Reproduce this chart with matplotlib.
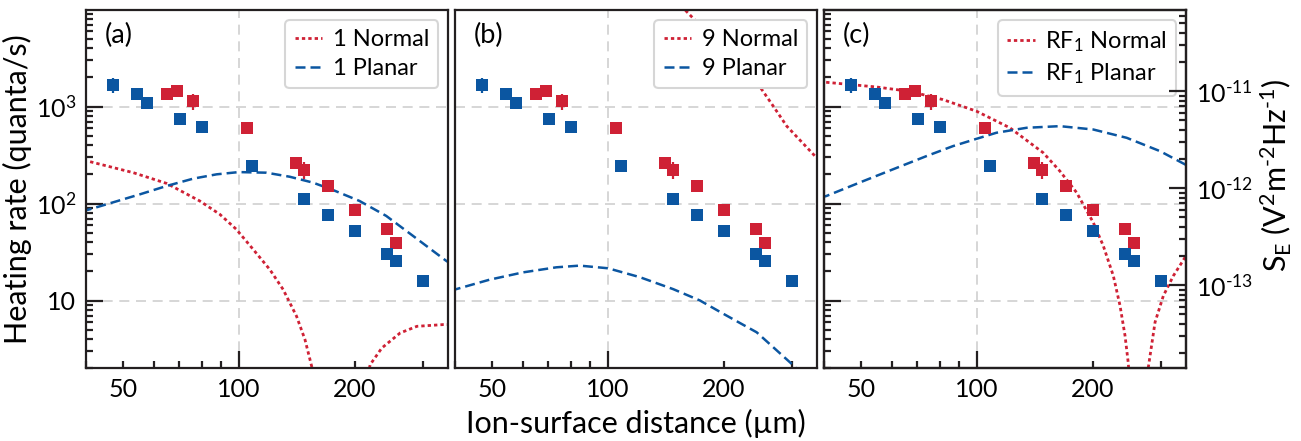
import matplotlib
matplotlib.use('Agg')
import matplotlib.pyplot as plt

plt.rcParams['font.family'] = ['Lato', 'DejaVu Sans']
plt.rcParams['mathtext.fontset'] = 'custom'
plt.rcParams['mathtext.rm'] = 'Lato'
plt.rcParams['mathtext.it'] = 'Lato:italic'
plt.rcParams['mathtext.default'] = 'regular'
plt.rcParams['font.size'] = 17

red = '#cf2135'
blue = '#0b56a1'
spine_col = '#231f20'

# measured heating rates (quanta/s) vs ion-surface distance (um)
blue_d = [47.1, 54.2, 57.5, 70.2, 80.0, 108.3, 147.7, 170, 200, 242.6, 256, 300]
blue_rate = [1670, 1362, 1100, 752, 622, 244, 112, 76, 52, 30, 25.3, 16]
blue_err = [290, 0, 0, 110, 0, 0, 0, 0, 0, 0, 0, 0]
red_d = [65, 68.8, 76, 104.9, 141, 147.2, 170, 200, 242.6, 256]
red_rate = [1340, 1438, 1134, 601, 260, 224, 150, 85, 54, 39.6]
red_err = [0, 0, 215, 0, 0, 45, 0, 0, 0, 0]

# model curves
a_norm_d = [41.0, 53.1, 64.9, 79.0, 89.1, 98.4, 108.8, 120.2, 130.2, 141.1, 148.4, 154.5, 162, 205,
            219.2, 235.1, 262.4, 290.1, 340.3, 355]
a_norm = [270, 208, 161, 106.4, 77.5, 54.2, 33.7, 20.9, 13.0, 6.88, 3.95, 2.09, 0.6, 0.6,
          2.18, 3.24, 4.63, 5.42, 5.65, 5.65]
a_plan_d = [39, 41.0, 46.2, 55.3, 64.8, 76.0, 87.4, 99.8, 117.8, 135.4, 155.6, 175.4, 205.7,
            241.3, 283.1, 345.4, 355]
a_plan = [83, 87.4, 100.7, 124.6, 151.7, 180.6, 200, 211, 208, 189, 164.4, 138, 106.3,
          74.6, 46.5, 25.7, 24]

b_norm_d = [155, 158.5, 248.4, 269, 291.5, 342, 355]
b_norm = [11000, 9930, 1592, 1007, 628, 321, 275]
b_plan_d = [39, 40.3, 49.2, 60.1, 73.4, 84.4, 100, 121, 147.7, 173.4, 199.4, 243.5, 303.4, 330]
b_plan = [12.6, 13.1, 16.4, 19.5, 22.0, 22.9, 21.5, 17.4, 13.1, 10.0, 7.3, 4.7, 2.14, 1.5]

c_norm_d = [39, 40.6, 54.7, 66.8, 81.5, 99.7, 121.7, 148.6, 164.2, 181.5, 200.5, 212.9, 226.1,
            235.3, 242.5, 247.4, 253, 274, 278.9, 290.3, 305.1, 324, 347.5, 355]
c_norm = [1800, 1778, 1592, 1435, 1180, 895, 604, 334, 216, 129.8, 63.8, 36.7, 18.0,
          8.9, 4.35, 2.23, 0.5, 0.5, 2.06, 5.98, 11.2, 18.0, 27.9, 31]
c_plan_d = [39, 40.6, 49.5, 60.4, 73.8, 86.6, 99.7, 112.3, 134.5, 164.2, 200.5, 245, 299, 347.5, 355]
c_plan = [115, 119.7, 164.5, 225, 308, 391, 465, 537, 604, 628, 580, 476, 347, 253, 240]

panels = ['(a)', '(b)', '(c)']
legend_names = [('1 Normal', '1 Planar'), ('9 Normal', '9 Planar'),
                ('RF$_1$ Normal', 'RF$_1$ Planar')]
curves = [(a_norm_d, a_norm, a_plan_d, a_plan),
          (b_norm_d, b_norm, b_plan_d, b_plan),
          (c_norm_d, c_norm, c_plan_d, c_plan)]

y_ticks = [10, 100, 1000]
y_tick_labels = ['10', '10$^2$', '10$^3$']
x_major = [100]
x_minor = [40, 50, 60, 70, 80, 90, 200, 300]
x_minor_labels = ['', '50', '', '', '', '', '200', '']
se_ticks = [1e-13, 1e-12, 1e-11]
se_tick_labels = ['10$^{\\text{-}13}$', '10$^{\\text{-}12}$', '10$^{\\text{-}11}$']
rate_to_se = 6.95e-15

fig = plt.figure(figsize=(13.01, 4.41), dpi=100)
lefts = [86, 455, 824]
axes = []
for i, lx in enumerate(lefts):
    ax = fig.add_axes([lx / 1301, 1 - 368.3 / 441, 362.3 / 1301, 358.3 / 441])
    axes.append(ax)
    ax.set_xscale('log')
    ax.set_yscale('log')
    nd, nv, pd_, pv = curves[i]
    ax.plot(nd, nv, color=red, lw=2.0, dashes=(1.2, 1.1), label=legend_names[i][0], zorder=2)
    ax.plot(pd_, pv, color=blue, lw=1.8, dashes=(4, 2), label=legend_names[i][1], zorder=2)
    ax.errorbar(red_d, red_rate, yerr=red_err, fmt='s', color=red, ms=8, mew=0,
                elinewidth=1.6, capsize=0, zorder=3)
    ax.errorbar(blue_d, blue_rate, yerr=blue_err, fmt='s', color=blue, ms=8, mew=0,
                elinewidth=1.6, capsize=0, zorder=3)
    ax.set_xlim(40, 350)
    ax.set_ylim(2, 9900)
    ax.set_xticks(x_major)
    ax.set_xticklabels(['100'])
    ax.set_xticks(x_minor, minor=True)
    ax.set_xticklabels(x_minor_labels, minor=True)
    ax.set_yticks(y_ticks)
    ax.set_yticklabels(y_tick_labels)
    ax.grid(True, which='major', color='#cfcfcf', lw=1.2, dashes=(6, 4))
    ax.set_axisbelow(True)
    for sp in ax.spines.values():
        sp.set_linewidth(1.6)
        sp.set_color(spine_col)
    ax.tick_params(which='both', direction='in', top=False, right=False, color=spine_col,
                   labelsize=18, pad=7)
    ax.tick_params(which='major', length=12, width=1.6)
    ax.tick_params(which='minor', length=5, width=1.6)
    if i > 0:
        ax.tick_params(axis='y', which='both', left=False, labelleft=False)
    ax.text(0.052, 0.93, panels[i], transform=ax.transAxes, fontsize=19.5, va='center', ha='left')
    leg = ax.legend(loc='upper right', handlelength=1.15, handletextpad=0.45, labelspacing=0.32,
                    borderaxespad=0.42, framealpha=1, fontsize=17, borderpad=0.4)
    leg.get_frame().set_edgecolor('#d6d6d6')
    leg.get_frame().set_linewidth(1.5)

axes[0].set_ylabel('Heating rate (quanta/s)', fontsize=22, labelpad=3)
axes[1].set_xlabel('Ion-surface distance (\u00b5m)', fontsize=22, labelpad=6)

ax2 = axes[2].twinx()
ax2.set_yscale('log')
ax2.set_ylim(2 * rate_to_se, 9900 * rate_to_se)
ax2.set_yticks(se_ticks)
ax2.set_yticklabels(se_tick_labels)
ax2.tick_params(which='both', direction='in', color=spine_col, labelsize=18, pad=7)
ax2.tick_params(which='major', length=12, width=1.6)
ax2.tick_params(which='minor', length=5, width=1.6)
ax2.set_ylabel('S$_E$ (V$^2$m$^{\\text{-}2}$Hz$^{\\text{-}1}$)', fontsize=22)
ax2.yaxis.set_label_coords(1.2, 0.54)
for sp in ax2.spines.values():
    sp.set_linewidth(1.6)
    sp.set_color(spine_col)

fig.savefig('out.png', dpi=100)
